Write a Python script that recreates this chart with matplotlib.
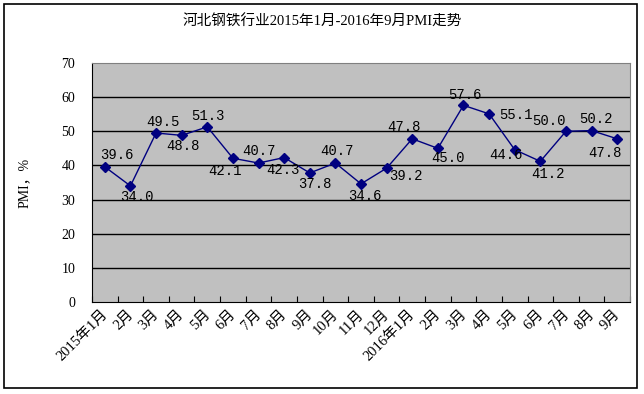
import matplotlib.pyplot as plt
from matplotlib.patches import Rectangle

plt.rcParams['font.family'] = ['Liberation Serif', 'Noto Sans CJK SC', 'DejaVu Sans']

# months on the category axis
months = ['2015年1月', '2月', '3月', '4月', '5月', '6月', '7月', '8月', '9月', '10月',
          '11月', '12月', '2016年1月', '2月', '3月', '4月', '5月', '6月', '7月', '8月', '9月']
pmi = [39.6, 34.0, 49.5, 48.8, 51.3, 42.1, 40.7, 42.3, 37.8, 40.7, 34.6,
       39.2, 47.8, 45.0, 57.6, 55.1, 44.6, 41.2, 50.0, 50.2, 47.8]
yticks = [0, 10, 20, 30, 40, 50, 60, 70]

# where each data label sits relative to its point (pixels)
label_off = [(12, 12), (6, -11), (7, 11), (1, -11), (1, 11), (-8, -13), (0, 12),
             (-1, -12), (5, -11), (2, 12), (4, -12), (19, -8), (-8, 12), (10, -10),
             (1, 10), (27, -1), (-9, -5), (8, -13), (-17, 10), (4, 12), (-12, -14)]

fig = plt.figure(figsize=(6.44, 3.94), dpi=100)
fig.patches.append(Rectangle((4 / 644, 6 / 394), 633 / 644, 384 / 394, transform=fig.transFigure,
                             fill=False, edgecolor='black', linewidth=1.2))

ax = fig.add_axes([92 / 644, 1 - 302 / 394, 538 / 644, 239 / 394])
ax.set_facecolor('#C0C0C0')

x = list(range(len(pmi)))
ax.plot(x, pmi, color='#000080', linewidth=1, marker='D', markersize=5)

for i, v in enumerate(pmi):
    ax.annotate(f'{v:.1f}', (i, v), xytext=label_off[i], textcoords='offset pixels',
                ha='center', va='center', fontsize=10, family='Liberation Mono')

ax.set_xlim(-0.5, len(pmi) - 0.5)
ax.set_ylim(0, 70)
ax.set_yticks(yticks)
for yv in yticks[1:-1]:
    ax.axhline(yv, color='black', linewidth=1, zorder=0.5)

ax.set_xticks([i - 0.5 for i in range(len(pmi) + 1)], minor=False)
ax.set_xticklabels([])
ax.set_xticks([i - 0.15 for i in x], minor=True)
ax.set_xticklabels(months, minor=True, rotation=45, ha='right', va='top',
                   rotation_mode='anchor', fontsize=10.5)
ax.tick_params(axis='x', which='major', direction='in', length=4, color='black')
ax.tick_params(axis='x', which='minor', length=0, pad=4)
ax.tick_params(axis='y', length=0, pad=12, labelsize=10)

ax.spines['left'].set_color('black')
ax.spines['bottom'].set_color('black')
ax.spines['top'].set_color('#808080')
ax.spines['right'].set_color('#808080')

ax.set_ylabel('PMI，%', fontsize=10, labelpad=22)
fig.text(0.5, 1 - 22 / 394, '河北钢铁行业2015年1月-2016年9月PMI走势', ha='center', va='center',
         fontsize=10.5)

fig.savefig('out.png', dpi=100)
